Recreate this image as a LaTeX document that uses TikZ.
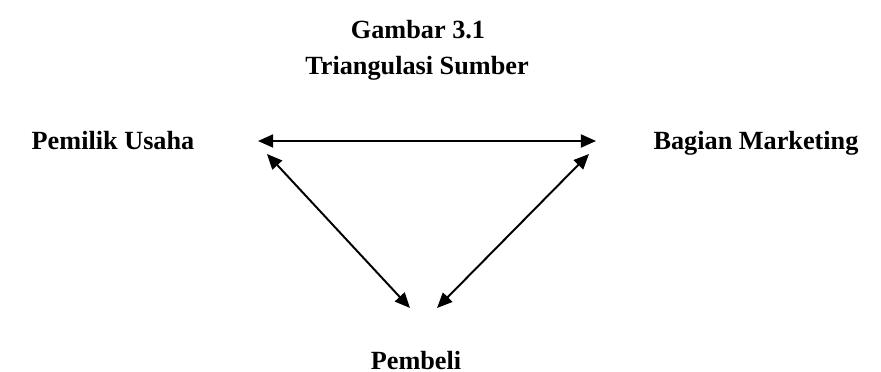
\documentclass[tikz,border=0pt]{standalone}
\usepackage{fontspec}
\setmainfont{Liberation Serif}
\usetikzlibrary{arrows.meta}

\begin{document}
\begin{tikzpicture}[
  x=0.381pt, y=-0.381pt,
  font=\bfseries,
  source/.style={anchor=base, inner sep=0pt},
  link/.style={{Triangle[length=5.8pt,width=5pt]}-{Triangle[length=5.8pt,width=5pt]},
    line width=0.75pt}
]
\useasboundingbox (0,0) rectangle (881,371);
% title
\node[source] (gambar) at (418,39) {Gambar 3.1};
\node[source] (judul) at (417,75) {Triangulasi Sumber};
% sources
\node[source] (pemilik) at (113,150) {Pemilik Usaha};
\node[source] (marketing) at (756,150) {Bagian Marketing};
\node[source] (pembeli) at (416,369) {Pembeli};
% arrow ends
\coordinate (pemilikH) at (258,141);
\coordinate (marketingH) at (596,141);
\coordinate (pemilikD) at (267,154);
\coordinate (marketingD) at (589,154);
\coordinate (pembeliL) at (410,308);
\coordinate (pembeliR) at (437,308);
% triangle
\draw[link] (pemilikH) -- (marketingH);
\draw[link] (pemilikD) -- (pembeliL);
\draw[link] (marketingD) -- (pembeliR);
\end{tikzpicture}
\end{document}
